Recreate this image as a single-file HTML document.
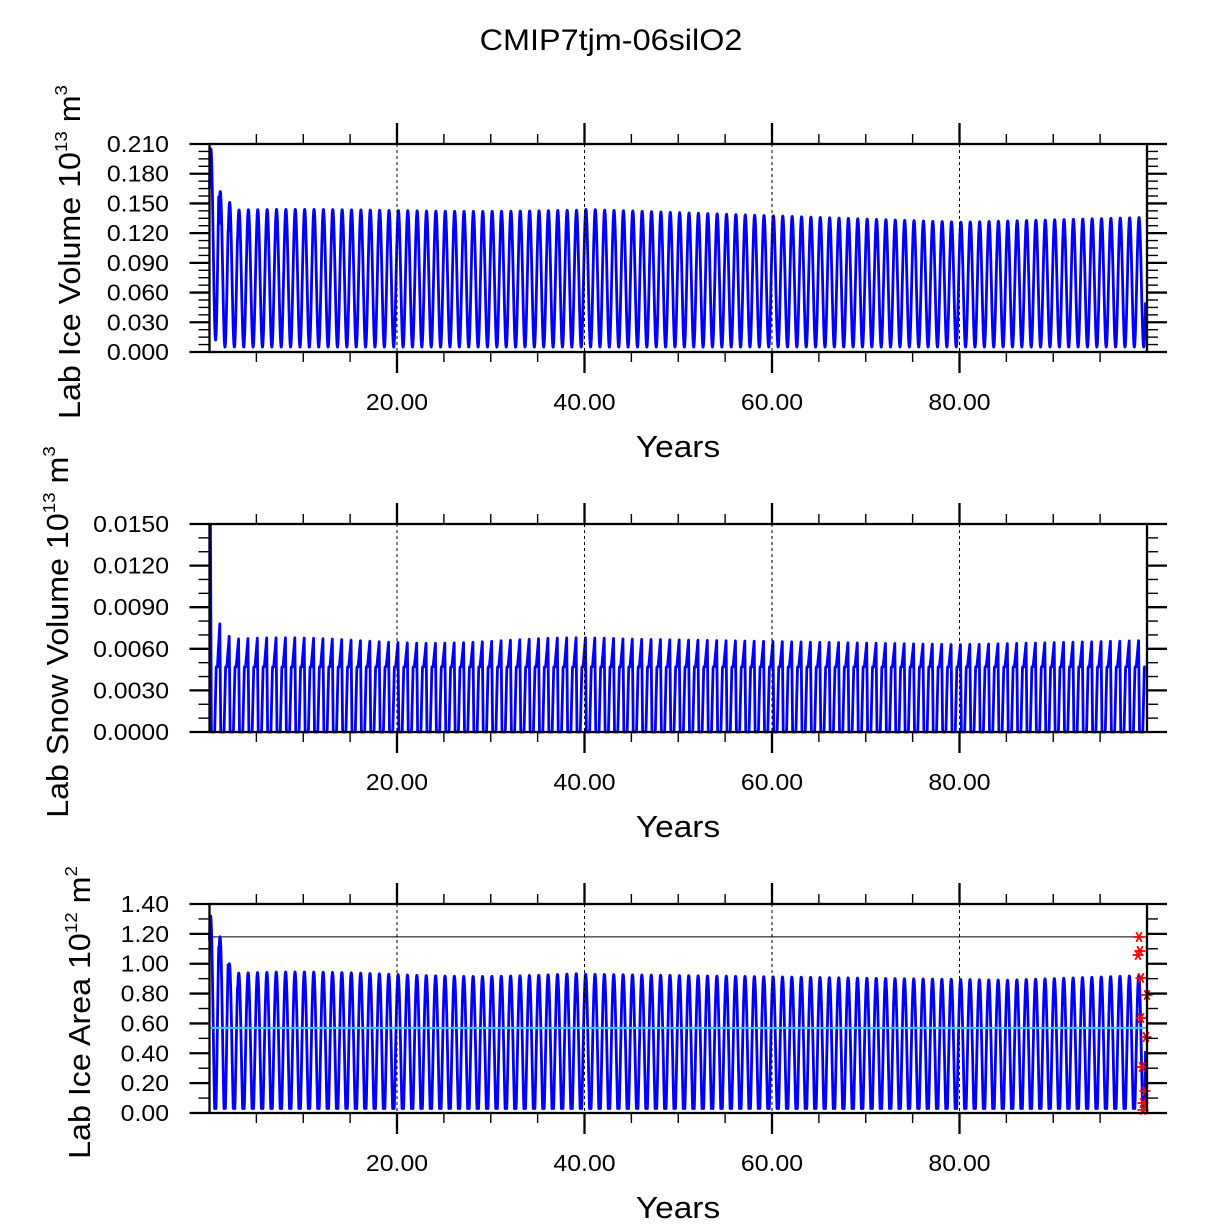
<!DOCTYPE html>
<html><head><meta charset="utf-8"><style>
html,body{margin:0;padding:0;background:#fff;}
svg{display:block;font-family:"Liberation Sans",Arial,sans-serif;}
</style></head><body>
<svg id="s" width="1222" height="1224" xmlns="http://www.w3.org/2000/svg">
<text transform="translate(611,50) scale(1.08,1)" font-size="30" text-anchor="middle">CMIP7tjm-06silO2</text>
</svg>
<script>
const svg=document.getElementById('s');
const NS='http://www.w3.org/2000/svg';
function el(t,a,txt){const e=document.createElementNS(NS,t);for(const k in a)e.setAttribute(k,a[k]);if(txt!==undefined)e.textContent=txt;svg.appendChild(e);return e;}
const X0=209.5,X1=1147;
const xs=y=>X0+(X1-X0)*y/100;
function panel(top,bot,ymax,nmaj,labels,nminPer,title,sup,unit,tx,dataFn,extra){
  const ys=v=>bot-(bot-top)*v/ymax;
  let d='';
  const N=Math.round(99.85*60);
  for(let i=0;i<=N;i++){const t=i/60;const v=dataFn(t);d+=(i?'L':'M')+xs(t).toFixed(2)+','+ys(Math.max(0,Math.min(ymax,v))).toFixed(2);}
  if(extra)extra.pre(ys);
  el('path',{d:d,fill:'none',stroke:'#0000ff','stroke-width':2.8,'stroke-linejoin':'round'});
  if(extra)extra.post(ys);
  for(let y=20;y<100;y+=20){el('line',{x1:xs(y),x2:xs(y),y1:top,y2:bot,stroke:'#000','stroke-width':1,'stroke-dasharray':'3,3'});}
  el('rect',{x:X0,y:top,width:X1-X0,height:bot-top,fill:'none',stroke:'#000','stroke-width':2.3});
  for(let y=5;y<100;y+=5){const maj=y%20==0;const L=maj?21:10;const x=xs(y);
    el('line',{x1:x,x2:x,y1:top-L,y2:top,stroke:'#000','stroke-width':maj?2.3:1.4});
    el('line',{x1:x,x2:x,y1:bot,y2:bot+L,stroke:'#000','stroke-width':maj?2.3:1.4});
    if(maj)el('text',{transform:`translate(${x},${bot+58}) scale(1.08,1)`,'font-size':23,'text-anchor':'middle'},y.toFixed(2));}
  const step=ymax/nmaj;
  for(let i=0;i<=nmaj*nminPer;i++){const v=i*step/nminPer;const y=ys(v);const maj=i%nminPer==0;const L=maj?20:11;
    el('line',{x1:X0-L,x2:X0,y1:y,y2:y,stroke:'#000','stroke-width':maj?2.3:1.4});
    el('line',{x1:X1,x2:X1+L,y1:y,y2:y,stroke:'#000','stroke-width':maj?2.3:1.4});
    if(maj)el('text',{transform:`translate(169,${y+8}) scale(1.08,1)`,'font-size':23,'text-anchor':'end'},labels[i/nminPer]);}
  el('text',{transform:`translate(678,${bot+105}) scale(1.08,1)`,'font-size':31,'text-anchor':'middle'},'Years');
  const cy=(top+bot)/2+4;
  const g=el('text',{transform:`translate(${tx},${cy}) rotate(-90) scale(1.04,1)`,'font-size':31,'text-anchor':'middle'});
  g.innerHTML=title+'<tspan dy="-13" font-size="18">'+sup+'</tspan><tspan dy="13"> m</tspan><tspan dy="-13" font-size="18">'+unit+'</tspan>';
  return ys;
}
function peakIce(n){if(n==0)return 0.205;if(n==1)return 0.162;if(n==2)return 0.151;if(n<40)return 0.143+0.001*Math.sin(n/6);if(n<80)return 0.144-0.013*(n-40)/40;return 0.131+0.005*(n-80)/20;}
function ice(t){const n=Math.floor(t),f=t-n;const pk=peakIce(n);const mn=n==0?0.012:0.005;const c=0.5+0.5*Math.cos(2*Math.PI*(f-0.15));return mn+(pk-mn)*c;}
panel(144,352,0.21,7,['0.000','0.030','0.060','0.090','0.120','0.150','0.180','0.210'],4,'Lab Ice Volume 10','13','3',80,ice);
function snowpk(n){if(n==0)return 0.0149;if(n==1)return 0.0078;if(n==2)return 0.0069;if(n<45)return 0.0066+0.0002*Math.sin(n/5);if(n<80)return 0.0067-0.0004*(n-45)/35;return 0.0063+0.0003*(n-80)/20;}
const SH=0.0047;
function snow(t){const n=Math.floor(t),f=t-n;
  if(f<=0.1){const start=n==0?0.0149:SH;return start+(snowpk(n)-start)*(f+(n==0?0:0.15))/(n==0?0.1:0.25);}
  if(f<=0.2)return snowpk(n)*(0.2-f)/0.1;
  if(f<=0.55)return 0;
  if(f<=0.72)return SH*(f-0.55)/0.17;
  if(f<=0.85)return SH;
  return SH+(snowpk(n+1)-SH)*(f-0.85)/0.25;}
panel(524,732,0.015,5,['0.0000','0.0030','0.0060','0.0090','0.0120','0.0150'],3,'Lab Snow Volume 10','13','3',68,snow);
function areapk(n){if(n==0)return 1.32;if(n==1)return 1.18;if(n==2)return 1.0;if(n<40)return 0.93+0.015*Math.sin(n/6);if(n<85)return 0.93-0.04*(n-40)/45;return 0.89+0.03*(n-85)/14;}
function area(t){const n=Math.floor(t),f=t-n;const pk=areapk(n);const c=0.5+0.5*Math.cos(2*Math.PI*(f-0.12));return Math.max(0.03,-0.08+(pk+0.08)*Math.pow(c,0.85));}
panel(904,1113,1.4,7,['0.00','0.20','0.40','0.60','0.80','1.00','1.20','1.40'],2,'Lab Ice Area 10','12','2',90,area,{
 pre:ys=>{el('line',{x1:X0,x2:X1,y1:ys(1.18),y2:ys(1.18),stroke:'#000','stroke-width':1});},
 post:ys=>{el('line',{x1:X0,x2:X1,y1:ys(0.57),y2:ys(0.57),stroke:'#33ccff','stroke-width':2});
  const pts=[[1139,937],[1140,951],[1138,955],[1141,978],[1147,995],[1141,1018],[1146,1037],[1142,1067],[1145,1091],[1143,1103],[1143,1110]];
  for(const[p,q]of pts){for(const a of[0,60,120]){const r=a*Math.PI/180,dx=5.5*Math.cos(r),dy=5.5*Math.sin(r);el('line',{x1:p-dx,y1:q-dy,x2:p+dx,y2:q+dy,stroke:'#ff0000','stroke-width':1.8});}}
 }});
</script>
</body></html>
